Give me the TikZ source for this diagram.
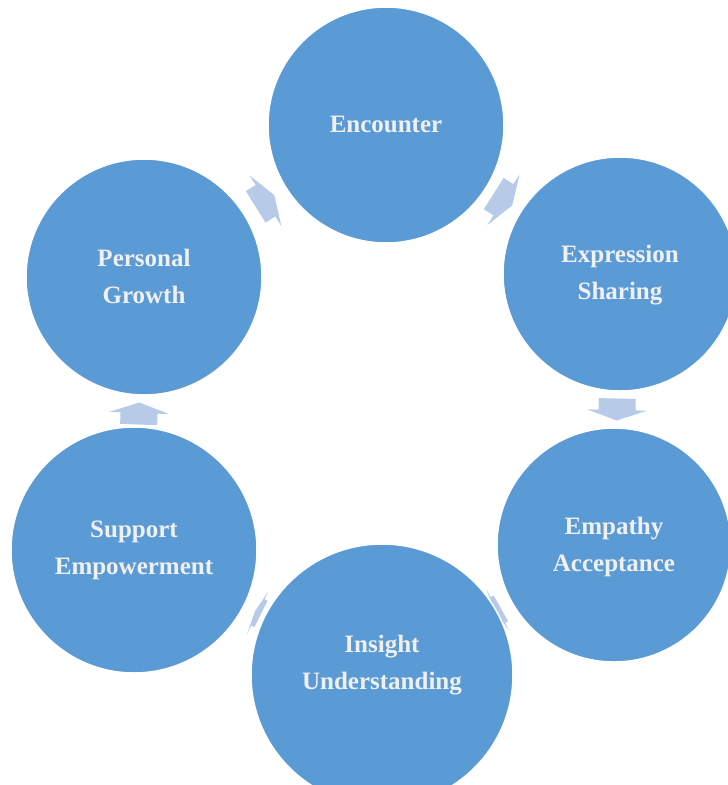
\documentclass[tikz,border=0pt]{standalone}
\usepackage{fontspec}
\setmainfont{Liberation Serif}
\usetikzlibrary{calc,backgrounds}
\definecolor{circblue}{RGB}{91,155,213}
\definecolor{arrblue}{RGB}{183,203,232}
\definecolor{labelgray}{RGB}{240,240,240}
\tikzset{
	cyc circle/.style={circle, fill=circblue, draw=white, line width=1.5pt, inner sep=0pt, minimum size=#1},
	cyc label/.style={text=labelgray, font=\bfseries\fontsize{25}{37}\selectfont, align=center},
	cyc arrow/.pic={
		\fill[arrblue] (-11,-18.5) -- (0.5,-18.5) -- (0.5,-30) -- (11,0) --
		(0.5,30) -- (0.5,18.5) -- (-11,18.5) -- cycle;
	}
}
% #3: extra options (squeezed arrows in narrow gaps)
\newcommand{\cyclearrow}[3][]{
	\path (#2.center) -- (#3.center) pic[pos=0.5, sloped, allow upside down, #1] {cyc arrow};
	}

\begin{document}
\begin{tikzpicture}[x=1pt,y=-1pt]

	\useasboundingbox (0,0) rectangle (728,785);
	\clip (0,0) rectangle (728,785);

	% six circles
	\node[cyc circle=236pt] (encounter) at (386,125) {};
	\node[cyc circle=234pt] (expression) at (620,274) {};
	\node[cyc circle=234pt] (empathy) at (614,545) {};
	\node[cyc circle=262pt] (insight) at (382,675) {};
	\node[cyc circle=246pt] (support) at (134,550) {};
	\node[cyc circle=236pt] (personal) at (144,277) {};

	\node[cyc label] (encountertext) at ([yshift=1pt]encounter.center) {Encounter};
	\node[cyc label] (expressiontext) at ([yshift=-1pt]expression.center) {Expression\\Sharing};
	\node[cyc label] (empathytext) at ([yshift=-2pt]empathy.center) {Empathy\\Acceptance};
	\node[cyc label] (insighttext) at ([yshift=10pt]insight.center) {Insight\\Understanding};
	\node[cyc label] (supporttext) at (support) {Support\\Empowerment};
	\node[cyc label] (personaltext) at ([yshift=1pt]personal.center) {Personal\\Growth};

	% arrows behind the circles
	\begin{scope}[on background layer]
		\cyclearrow{encounter}{expression}
		\cyclearrow{expression}{empathy}
		\cyclearrow[xscale=0.3, yscale=0.8]{empathy}{insight}
		\cyclearrow[xscale=0.3, yscale=0.8]{insight}{support}
		\cyclearrow{support}{personal}
		\cyclearrow{personal}{encounter}
	\end{scope}

\end{tikzpicture}
\end{document}
